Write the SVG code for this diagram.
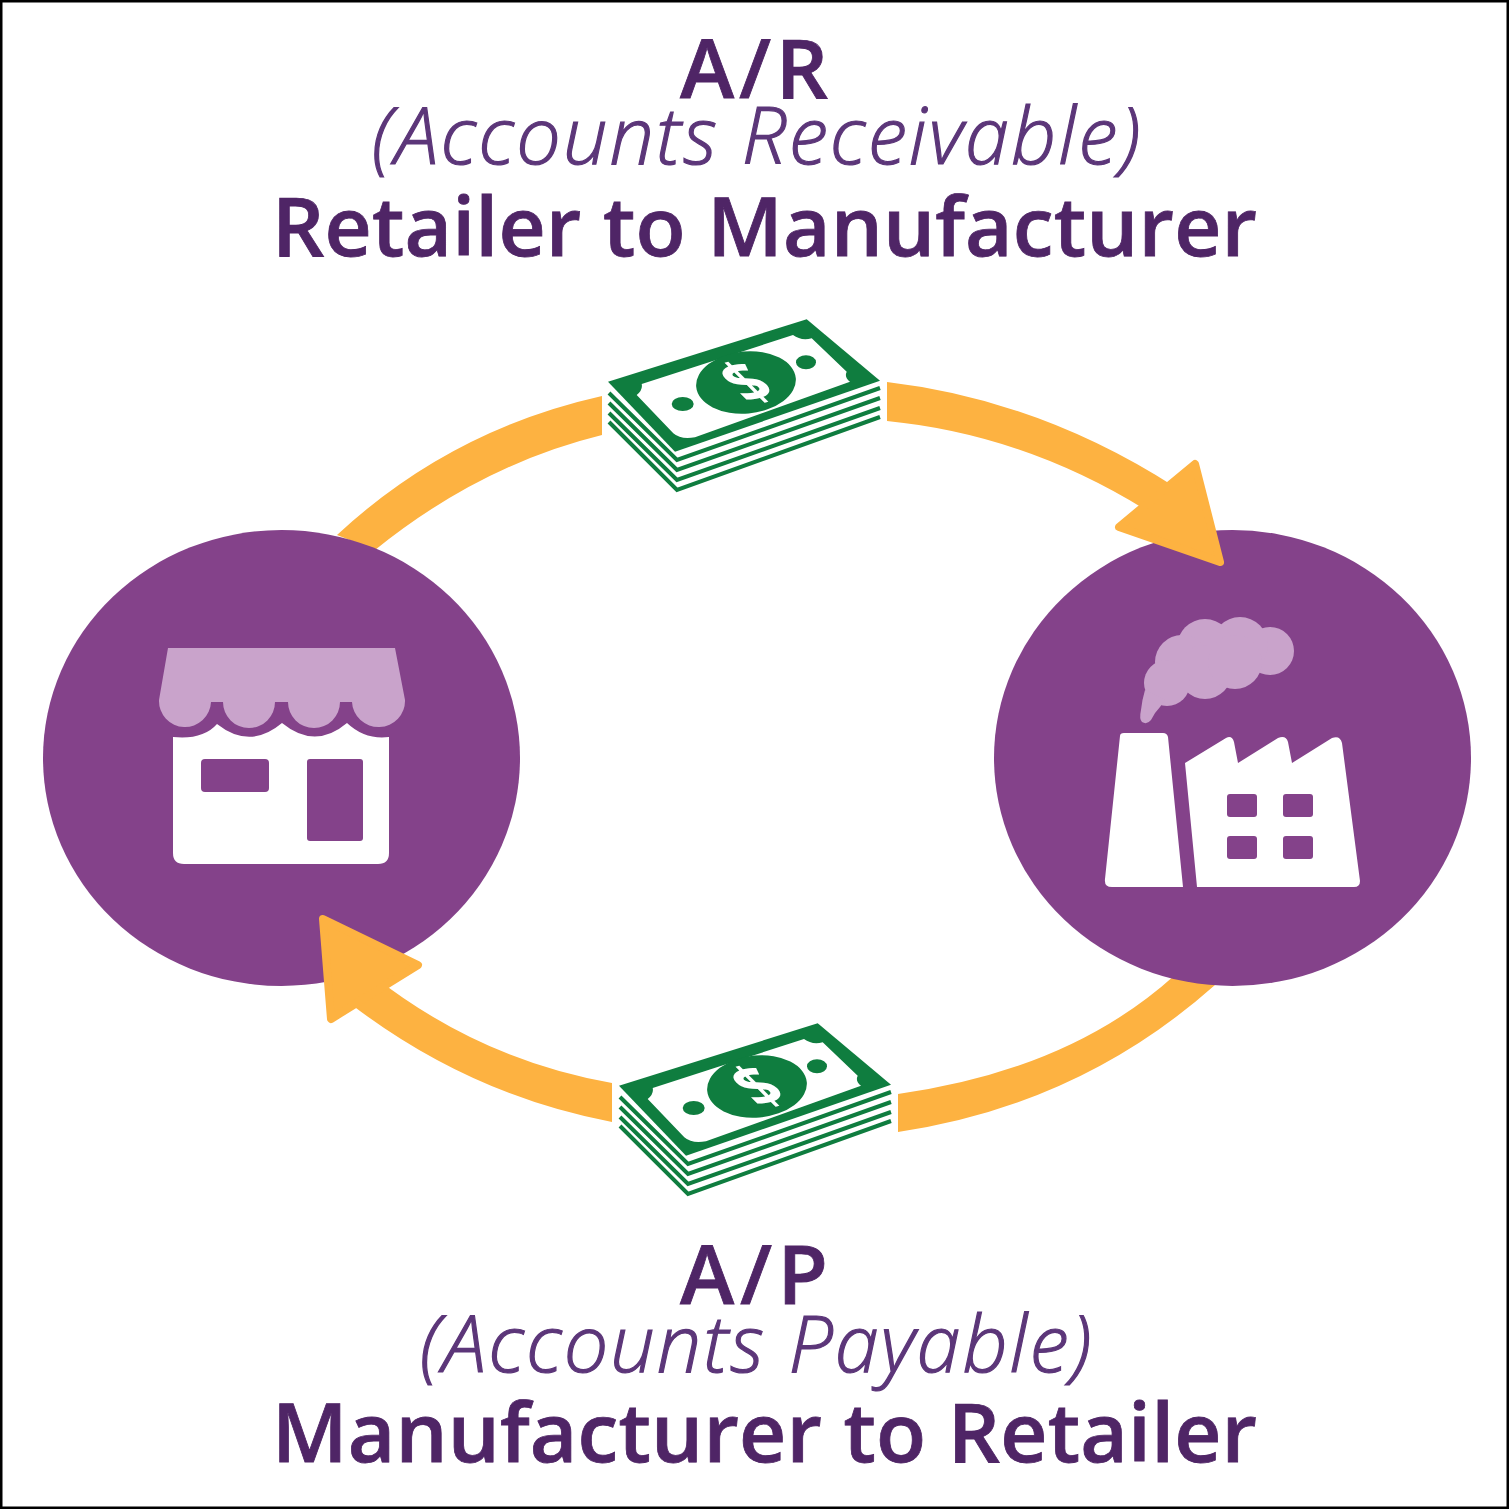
<svg xmlns="http://www.w3.org/2000/svg" width="1509" height="1509" viewBox="0 0 1509 1509">
<style>
.t{font-family:"Open Sans","Noto Sans",sans-serif;text-anchor:middle}
.h{font-weight:600;fill:#4f2566;font-size:82px;stroke:#4f2566;stroke-width:.8px}
.i{font-style:italic;fill:#5c3679;font-size:79px;font-weight:300;stroke:#5c3679;stroke-width:1.2px}
.a{fill:#fdb241}
.head{fill:#fdb241;stroke:#fdb241;stroke-width:8;stroke-linejoin:round}
.c{fill:#84428a}
.w{fill:#fff}
.l{fill:#c9a3cb}
</style>
<defs>
<g id="bill">
<g fill="none" stroke="#0f7d3f" stroke-width="4" stroke-linejoin="miter">
<path d="M0 73L68 140 271 68"/>
<path d="M0 83L68 150 271 78"/>
<path d="M0 93L68 160 271 88"/>
<path d="M0 102L68 170 271 97"/>
</g>
<path d="M-1 61.700L197.700-.7 271 60.700 66 131.700Z" fill="#0f7d3f"/>
<path d="M32.700 64L184 15Q192 21 202.700 18.300L237.700 51.700Q235 57 241 61.700L86 117.300Q72 120 64.300 113.300L27.700 75Q34 70 32.700 64Z" fill="#fff"/>
<ellipse cx="137" cy="62.500" rx="50" ry="31" fill="#0f7d3f" transform="rotate(-5 137 62.500)"/>
<ellipse cx="73.700" cy="84" rx="11" ry="7" fill="#0f7d3f"/>
<ellipse cx="197" cy="42.300" rx="10" ry="7" fill="#0f7d3f"/>
<text transform="matrix(.78 -.24 .7 .7 137 62)" y="25" font-family="Open Sans,sans-serif" font-weight="700" font-size="70" fill="#fff" text-anchor="middle">$</text>
</g>
</defs>
<rect x="1" y="1" width="1507" height="1507" fill="#fff" stroke="#000" stroke-width="3"/>
<g id="connectors">
<path class="a" d="M602 396Q450 430 337 535L375 550Q480 465 602 435Z"/>
<path class="a" d="M898 1094Q1070 1070 1175 975L1215 985Q1080 1105 898 1132Z"/>
</g>
<g id="retailer">
<ellipse class="c" cx="281.500" cy="758" rx="238.500" ry="228"/>
<path class="l" d="M168 648H395L405 700A26.500 26 0 0 1 352 702H340A26 26 0 0 1 288 702H275A26 26 0 0 1 223 702H211A26 26 0 0 1 159 700Z"/>
<path class="w" d="M173 737Q203 740 217 724Q250 750 282 723Q315 750 347 723Q365 740 389 737V853Q389 864 378 864H184Q173 864 173 853Z"/>
<rect class="c" x="201" y="759" width="68" height="33" rx="4"/>
<rect class="c" x="307" y="759" width="56" height="82" rx="3"/>
</g>
<g id="manufacturer">
<ellipse class="c" cx="1232.500" cy="758" rx="238.500" ry="228"/>
<g class="l">
<circle cx="1270" cy="651" r="24"/><circle cx="1240" cy="645" r="28"/><circle cx="1205" cy="647" r="28"/><circle cx="1182" cy="662" r="27"/><circle cx="1205" cy="672" r="27"/><circle cx="1235" cy="662" r="27"/><circle cx="1167" cy="683" r="23"/>
<path d="M1145 690L1165 700 1160 707Q1155 712 1151 720 1147 725 1142 722 1139 719 1141 710 1142 700 1145 690Z"/>
</g>
<path class="w" d="M1120 736Q1120 733 1124 733H1163Q1167 733 1168 737L1183 887H1112Q1104 887 1105 879Z"/>
<path class="w" d="M1185 763L1226 738Q1232 735 1234 742L1238 763 1278 738Q1286 735 1288 742L1292 763 1332 738Q1340 735 1342 743L1360 881Q1360 887 1354 887H1197Z"/>
<g class="c"><rect x="1227" y="794" width="30" height="23" rx="3"/><rect x="1283" y="794" width="30" height="23" rx="3"/><rect x="1227" y="836" width="30" height="23" rx="3"/><rect x="1283" y="836" width="30" height="23" rx="3"/></g>
</g>
<g id="arrows">
<path class="a" d="M887 382Q1040 400 1175 487L1157 517Q1030 435 887 421Z"/>
<path class="head" d="M1195 464L1220 562 1119 527Z"/>
<path class="a" d="M612 1083Q480 1060 372 975L352 1005Q470 1095 612 1122Z"/>
<path class="head" d="M323 919L418 965 331 1019Z"/>
</g>
<g id="money-top"><use href="#bill" x="609" y="320"/></g>
<g id="money-bottom"><use href="#bill" x="620" y="1024"/></g>
<g id="label-top">
<text class="t h" x="754" y="98" textLength="148">A/R</text>
<text class="t i" x="756" y="164" textLength="768">(Accounts Receivable)</text>
<text class="t h" x="764.500" y="256" textLength="985">Retailer to Manufacturer</text>
</g>
<g id="label-bottom">
<text class="t h" x="754" y="1304" textLength="148">A/P</text>
<text class="t i" x="755.500" y="1372" textLength="671">(Accounts Payable)</text>
<text class="t h" x="764.500" y="1462" textLength="985">Manufacturer to Retailer</text>
</g>
</svg>
